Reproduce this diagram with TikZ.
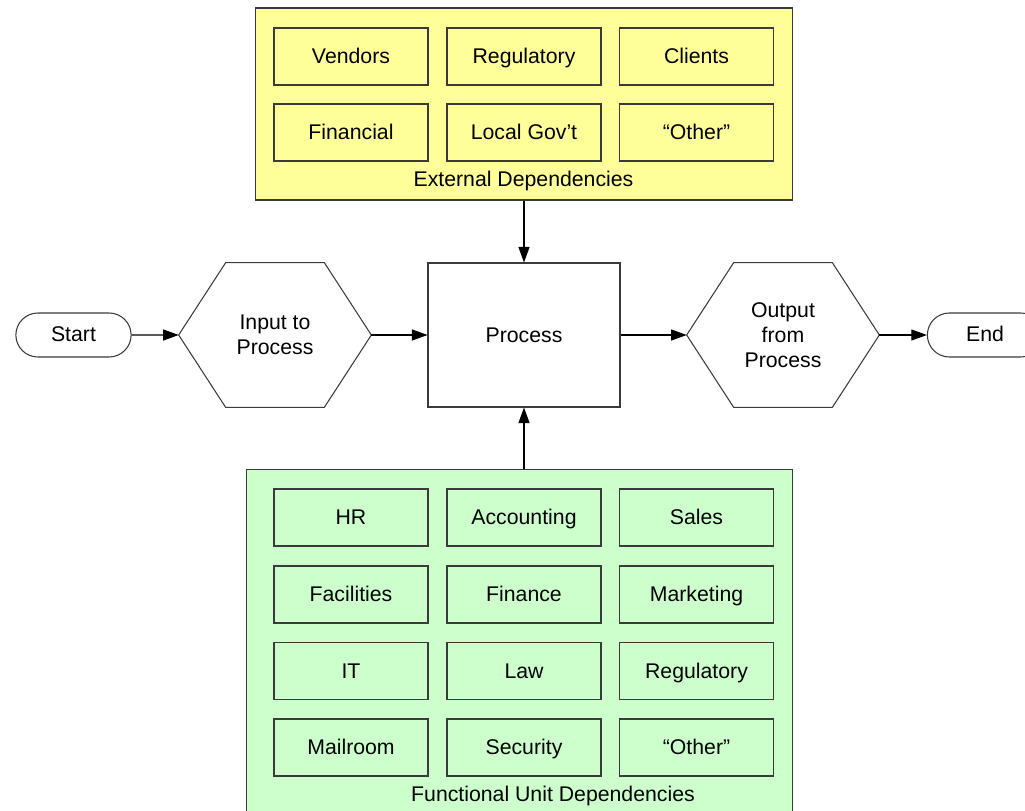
\documentclass[tikz,border=0pt]{standalone}
\usepackage{fontspec}
\setmainfont{Liberation Sans}
\usetikzlibrary{positioning,arrows.meta,shapes.misc}
\definecolor{extfill}{HTML}{FFFF99}
\definecolor{funcfill}{HTML}{CCFFCC}
\definecolor{edge}{HTML}{3A3A3A}
\newcommand{\diagfont}{\fontsize{12.1}{14.4}\selectfont}
\tikzset{
  dep/.style     = {rectangle, draw=edge, line width=0.6pt, align=center,
                    text height=9.9pt, text depth=1.5pt,
                    minimum width=3.08cm, minimum height=1.14cm, font=\diagfont},
  extdep/.style  = {dep, fill=extfill},
  funcdep/.style = {dep, fill=funcfill},
  grp/.style     = {rectangle, draw=edge, line width=0.6pt, inner sep=0pt},
  term/.style    = {rounded rectangle, draw=edge, line width=0.6pt, fill=white,
                    text height=9.6pt, text depth=1.8pt,
                    minimum width=2.54cm, minimum height=0.88cm, font=\diagfont},
  proc/.style    = {rectangle, draw=edge, line width=0.6pt, fill=white,
                    minimum width=3.84cm, minimum height=2.88cm, font=\diagfont},
  hexbox/.style  = {rectangle, align=center, minimum width=3.84cm,
                    minimum height=2.88cm, font=\diagfont},
  hexline/.style = {draw=edge, line width=0.6pt},
  flow/.style    = {-{Triangle[length=3.1mm,width=2.2mm]}, line width=0.6pt, draw=black},
  lbl/.style     = {font=\diagfont},
}

\begin{document}
\begin{tikzpicture}[x=0.02cm, y=-0.02cm]
  \useasboundingbox (0,0) rectangle (1025,811);
  \clip (0,0) rectangle (1025,811);

  % external dependencies
  \node[grp, fill=extfill, minimum width=10.76cm, minimum height=3.84cm] (ext) at (524,104) {};
  \node[extdep] (vend) at (351,56.5) {Vendors};
  \node[extdep] (regx) at (524,56.5) {Regulatory};
  \node[extdep] (clnt) at (696.5,56.5) {Clients};
  \node[extdep] (fin)  at (351,132.5) {Financial};
  \node[extdep] (gov)  at (524,132.5) {Local Gov’t};
  \node[extdep] (othx) at (696.5,132.5) {“Other”};
  \node[lbl] (extlbl) at (523.5,181) {External Dependencies};

  % main flow
  \node[term]   (start) at (73.5,335) {Start};
  \node[hexbox] (inp)   at (275,335)  {Input to\\Process};
  \node[proc]   (proc)  at (524,335)  {Process};
  \node[hexbox] (outp)  at (783,335)  {Output\\from\\Process};
  \node[term]   (end)   at (985,335)  {End};

  \foreach \h in {inp,outp}
    \draw[hexline] (\h.west) -- ([xshift=9.4mm]\h.north west) -- ([xshift=-9.4mm]\h.north east)
      -- (\h.east) -- ([xshift=-9.4mm]\h.south east) -- ([xshift=9.4mm]\h.south west) -- cycle;

  % functional unit dependencies
  \node[grp, fill=funcfill, minimum width=10.94cm, minimum height=7.1cm] (func) at (519.5,646.5) {};
  \node[funcdep] (hr)   at (351,517.5)   {HR};
  \node[funcdep] (acct) at (524,517.5)   {Accounting};
  \node[funcdep] (sale) at (696.5,517.5) {Sales};
  \node[funcdep] (fac)  at (351,594.5)   {Facilities};
  \node[funcdep] (fnc)  at (524,594.5)   {Finance};
  \node[funcdep] (mkt)  at (696.5,594.5) {Marketing};
  \node[funcdep] (it)   at (351,671)     {IT};
  \node[funcdep] (law)  at (524,671)     {Law};
  \node[funcdep] (regf) at (696.5,671)   {Regulatory};
  \node[funcdep] (mail) at (351,747.5)   {Mailroom};
  \node[funcdep] (sec)  at (524,747.5)   {Security};
  \node[funcdep] (othf) at (696.5,747.5) {“Other”};
  \node[lbl] (funclbl) at (553,796) {Functional Unit Dependencies};

  \draw[flow] (start) -- (inp.west);
  \draw[flow] (inp.east) -- (proc);
  \draw[flow] (proc) -- (outp.west);
  \draw[flow] (outp.east) -- (end);
  \draw[flow] (ext) -- (proc);
  \draw[flow] (func.north -| proc) -- (proc);
\end{tikzpicture}
\end{document}
